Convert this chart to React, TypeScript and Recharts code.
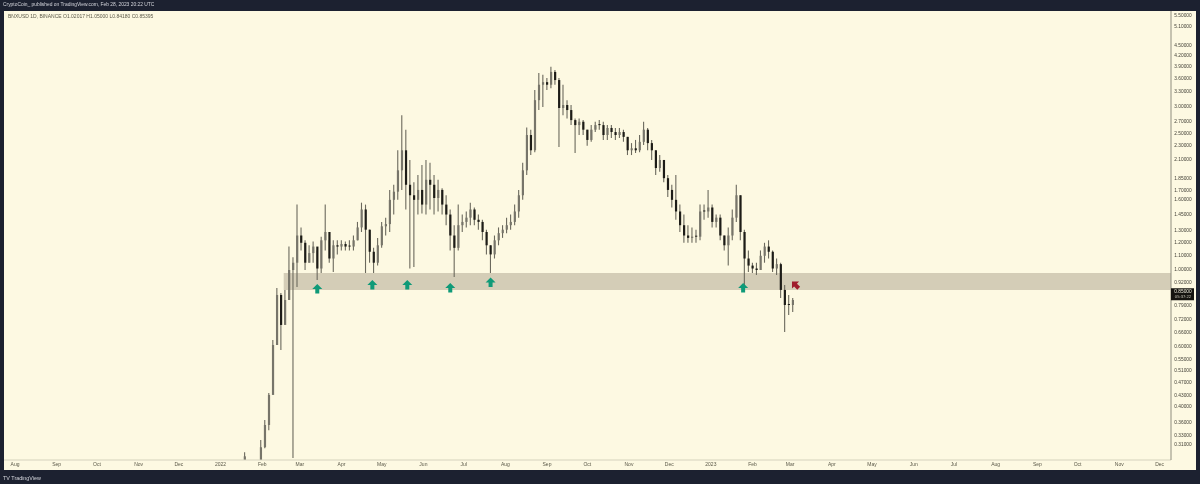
import { Bar, Cell, ComposedChart, ReferenceArea, Scatter, XAxis, YAxis } from "recharts";

// candles every 3 days, first one at day 171 (days counted from Aug 1 2021)
const firstDay = 171;
const candleStep = 3;

const highs = [
  0.295, null, null, null, 0.32, 0.366, 0.439, 0.626, 0.887, 0.857,
  0.875, 1.17, 1.09, 1.55, 1.33, 1.22, 1.18, 1.21, 1.14, 1.25,
  1.55, 1.22, 1.22, 1.22, 1.22, 1.21, 1.22, 1.26, 1.38, 1.57,
  1.55, 1.31, 1.16, 1.24, 1.38, 1.42, 1.71, 1.77, 2.23, 2.82,
  2.56, 2.09, 1.8, 1.89, 2.02, 2.09, 2.05, 1.89, 1.83, 1.73,
  1.65, 1.5, 1.35, 1.55, 1.45, 1.48, 1.57, 1.52, 1.45, 1.4,
  1.31, 1.18, 1.26, 1.33, 1.35, 1.42, 1.45, 1.55, 1.71, 2.05,
  2.6, 2.56, 3.34, 3.74, 3.7, 3.62, 3.9, 3.82, 3.62, 3.46,
  3.12, 3.02, 2.76, 2.76, 2.73, 2.56, 2.64, 2.7, 2.73, 2.7,
  2.64, 2.64, 2.59, 2.59, 2.56, 2.44, 2.34, 2.39, 2.47, 2.7,
  2.59, 2.39, 2.23, 2.16, 2.02, 1.89, 1.77, 1.89, 1.55, 1.45,
  1.35, 1.33, 1.31, 1.55, 1.55, 1.71, 1.55, 1.45, 1.45, 1.26,
  1.33, 1.5, 1.77, 1.65, 1.31, 1.14, 1.05, 1.05, 1.14, 1.2,
  1.22, 1.14, 1.08, 1.05, 0.904, 0.846, 0.829,
];
const lows = [
  0.28, null, null, null, 0.28, 0.303, 0.342, 0.522, 0.605, 0.585,
  0.715, 0.818, 0.284, 0.892, 1.14, 1.0, 1.05, 1.05, 0.935, 0.98,
  1.14, 1.05, 0.987, 1.11, 1.14, 1.14, 1.14, 1.14, 1.22, 1.29,
  0.98, 1.05, 0.98, 1.03, 1.16, 1.26, 1.29, 1.45, 1.6, 1.71,
  1.5, 1.01, 1.02, 1.45, 1.46, 1.45, 1.5, 1.45, 1.48, 1.45,
  1.35, 1.14, 0.954, 1.14, 1.29, 1.33, 1.35, 1.35, 1.31, 1.22,
  1.11, 0.98, 1.08, 1.18, 1.24, 1.28, 1.31, 1.35, 1.42, 1.6,
  1.89, 2.16, 2.2, 2.92, 2.98, 3.34, 3.38, 3.46, 2.28, 2.82,
  2.76, 2.64, 2.19, 2.47, 2.47, 2.3, 2.36, 2.52, 2.56, 2.39,
  2.39, 2.42, 2.39, 2.42, 2.36, 2.16, 2.16, 2.19, 2.2, 2.31,
  2.23, 2.09, 1.89, 1.93, 1.8, 1.63, 1.52, 1.4, 1.29, 1.2,
  1.2, 1.2, 1.2, 1.22, 1.4, 1.42, 1.33, 1.33, 1.22, 1.14,
  1.03, 1.22, 1.38, 1.22, 0.892, 0.987, 0.98, 0.967, 1.0, 1.05,
  1.08, 0.987, 0.967, 0.829, 0.66, 0.74, 0.755,
];
const closes = [
  0.287, null, null, null, 0.305, 0.354, 0.433, 0.605, 0.846, 0.692,
  0.818, 1.0, 1.05, 1.26, 1.2, 1.05, 1.12, 1.17, 1.01, 1.22,
  1.29, 1.08, 1.18, 1.17, 1.19, 1.17, 1.17, 1.22, 1.33, 1.5,
  1.31, 1.13, 1.05, 1.18, 1.34, 1.36, 1.6, 1.69, 1.95, 2.23,
  1.77, 1.65, 1.6, 1.71, 1.55, 1.83, 1.77, 1.62, 1.71, 1.55,
  1.45, 1.26, 1.16, 1.35, 1.38, 1.42, 1.5, 1.4, 1.38, 1.29,
  1.18, 1.11, 1.22, 1.28, 1.31, 1.35, 1.38, 1.48, 1.65, 1.95,
  2.47, 2.23, 3.12, 3.46, 3.52, 3.46, 3.77, 3.57, 2.96, 3.02,
  2.92, 2.73, 2.64, 2.7, 2.56, 2.39, 2.56, 2.64, 2.64, 2.47,
  2.59, 2.52, 2.47, 2.52, 2.44, 2.23, 2.26, 2.23, 2.36, 2.56,
  2.34, 2.23, 1.98, 2.09, 1.85, 1.71, 1.6, 1.48, 1.35, 1.26,
  1.24, 1.25, 1.25, 1.48, 1.48, 1.52, 1.38, 1.42, 1.26, 1.18,
  1.26, 1.42, 1.65, 1.29, 1.08, 1.03, 1.01, 1.0, 1.1, 1.17,
  1.13, 1.01, 1.04, 0.875, 0.791, 0.791, 0.818,
];

const priceTicks = [
  5.5, 5.1, 4.5, 4.2, 3.9, 3.6, 3.3, 3.0, 2.7, 2.5, 2.3, 2.1, 1.85, 1.7, 1.6, 1.45, 1.3,
  1.2, 1.1, 1.0, 0.92, 0.85, 0.79, 0.72, 0.66, 0.6, 0.55, 0.51, 0.47, 0.43, 0.4, 0.36, 0.33, 0.31,
];
const lastPrice = 0.85;

const monthDays = [
  0, 31, 61, 92, 122, 153, 184, 212, 243, 273, 304, 334, 365, 396, 426,
  457, 487, 518, 549, 577, 608, 638, 669, 699, 730, 761, 791, 822, 852,
];
const monthNames = [
  "Aug", "Sep", "Oct", "Nov", "Dec", "2022", "Feb", "Mar", "Apr", "May", "Jun", "Jul", "Aug", "Sep", "Oct",
  "Nov", "Dec", "2023", "Feb", "Mar", "Apr", "May", "Jun", "Jul", "Aug", "Sep", "Oct", "Nov", "Dec",
];

const bandTop = 0.98;
const bandBottom = 0.875;
const bandStartDay = 200;

const greenArrowDays = [225, 266, 292, 324, 354, 542];
const greenArrowPrices = [0.88, 0.904, 0.904, 0.887, 0.92, 0.887];
const redArrowDays = [581];
const redArrowPrices = [0.904];

const candles = closes
  .map((close, i) => {
    const prev = closes[i - 1];
    const open = prev ?? lows[i];
    return {
      day: firstDay + i * candleStep,
      wick: [lows[i], highs[i]],
      body: open != null && close != null ? [Math.min(open, close), Math.max(open, close)] : null,
      up: open != null && close != null && close > open,
    };
  })
  .filter((c) => c.body !== null);

const greenArrows = greenArrowDays.map((day, i) => ({ day, price: greenArrowPrices[i] }));
const redArrows = redArrowDays.map((day, i) => ({ day, price: redArrowPrices[i] }));

const arrowShape = (color: string, angle: number) => (props: any) => (
  <g transform={`translate(${props.cx},${props.cy}) rotate(${angle})`}>
    <path d="M0,-5 L5,0 L2,0 L2,4.5 L-2,4.5 L-2,0 L-5,0 Z" fill={color} />
  </g>
);

const PriceTick = (props: any) => {
  const { x, y, payload } = props;
  const isLast = payload.value === lastPrice;
  return (
    <g>
      {isLast && <rect x={x} y={y - 6} width={23} height={12} fill="#14130f" />}
      <text
        x={x + 12}
        y={isLast ? y - 1 : y + 1.5}
        textAnchor="middle"
        fontSize={4.8}
        fontFamily="Liberation Sans"
        fill={isLast ? "#e8e6d8" : "#3f3d34"}
      >
        {payload.value.toFixed(5)}
      </text>
      {isLast && (
        <text x={x + 12} y={y + 4} textAnchor="middle" fontSize={4.2} fontFamily="Liberation Sans" fill="#c9c7ba">
          05:37:22
        </text>
      )}
    </g>
  );
};

export default function App() {
  return (
    <div style={{ position: "absolute", left: 0, top: 0, width: 1200, height: 484, background: "#1c2130", overflow: "hidden", fontFamily: "Liberation Sans" }}>
      <div style={{ filter: "blur(0.55px)" }}>
        <div style={{ position: "absolute", left: 4, top: 11, width: 1192, height: 459, background: "#fdf9e2" }} />
        <div style={{ position: "absolute", left: 3, top: 2, fontSize: 4.9, color: "#d5d6dc", whiteSpace: "nowrap" }}>
          CryptoCoin_ published on TradingView.com, Feb 28, 2023 20:22 UTC
        </div>
        <div style={{ position: "absolute", left: 8, top: 13, fontSize: 5, color: "#5a5848", whiteSpace: "nowrap" }}>
          BNXUSD 1D, BINANCE O1.02017 H1.05000 L0.84180 C0.85395
        </div>
        <div style={{ position: "absolute", left: 3, top: 475, fontSize: 5.4, color: "#d5d6dc", whiteSpace: "nowrap" }}>
          TV TradingView
        </div>
        <ComposedChart
          width={1197}
          height={470}
          data={candles}
          margin={{ top: 11, right: 0, bottom: 0, left: 4 }}
          style={{ position: "absolute", left: 0, top: 0 }}
        >
          <XAxis
            type="number"
            dataKey="day"
            domain={[-8.2, 860.5]}
            allowDataOverflow
            ticks={monthDays}
            interval={0}
            height={10}
            tickFormatter={(d: number) => monthNames[monthDays.indexOf(d)]}
            tick={{ fontSize: 5, fill: "#5a5848", fontFamily: "Liberation Sans" }}
            tickLine={false}
            tickSize={0}
            axisLine={{ stroke: "#d5d2bd" }}
            tickMargin={2}
          />
          <XAxis xAxisId="body" type="number" dataKey="day" domain={[-8.2, 860.5]} allowDataOverflow hide />
          <YAxis
            orientation="right"
            scale="log"
            domain={[0.28, 5.67]}
            allowDataOverflow
            ticks={priceTicks}
            interval={0}
            width={26}
            tick={PriceTick}
            tickLine={false}
            tickSize={0}
            tickMargin={0}
            axisLine={{ stroke: "#8f8d7e" }}
          />
          <YAxis yAxisId="body" orientation="right" scale="log" domain={[0.28, 5.67]} allowDataOverflow hide />
          <ReferenceArea
            x1={bandStartDay}
            x2={860.5}
            y1={bandBottom}
            y2={bandTop}
            fill="#d4cdb7"
            fillOpacity={1}
            stroke="none"
            ifOverflow="hidden"
          />
          <Bar dataKey="wick" barSize={1.1} fill="#6b695d" isAnimationActive={false} />
          <Bar xAxisId="body" yAxisId="body" dataKey="body" barSize={2.2} minPointSize={1} isAnimationActive={false}>
            {candles.map((c) => (
              <Cell key={c.day} fill={c.up ? "#77756a" : "#1d1c17"} />
            ))}
          </Bar>
          <Scatter data={greenArrows} dataKey="price" shape={arrowShape("#0f9a78", 0)} isAnimationActive={false} />
          <Scatter data={redArrows} dataKey="price" shape={arrowShape("#a01c2c", -45)} isAnimationActive={false} />
        </ComposedChart>
      </div>
    </div>
  );
}
